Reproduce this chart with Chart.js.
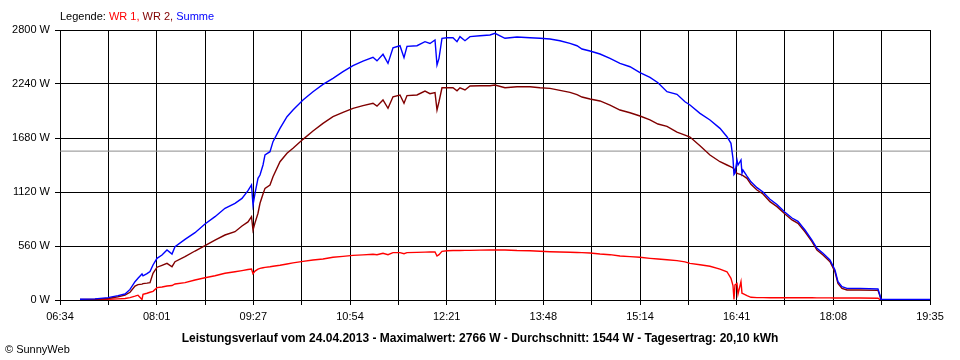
<!DOCTYPE html>
<html lang="de">
<head>
    <meta charset="UTF-8">
    <title>Leistungsverlauf 24.04.2013</title>
    <style>
        body {
            margin: 0;
            background-color: #ffffff;
        }

        .wrap {
            position: relative;
            width: 960px;
            height: 360px;
            font-family: 'Liberation Sans', Arial, sans-serif;
            color: #000000;
        }

        #powerChart {
            position: absolute;
            left: 0;
            top: 0;
        }

        .legend {
            position: absolute;
            left: 60px;
            top: 10px;
            font-size: 11px;
        }

        .footer {
            position: absolute;
            left: 0;
            width: 960px;
            top: 331px;
            text-align: center;
            font-size: 12px;
            font-weight: bold;
        }

        .copy {
            position: absolute;
            left: 5px;
            top: 343px;
            font-size: 11px;
        }
    </style>
</head>
<body>
    <div class="wrap">
        <canvas id="powerChart" width="960" height="360"></canvas>
        <div class="legend">Legende: <span style="color:#ff0000">WR 1,</span> <span style="color:#800000">WR 2,</span> <span style="color:#0000ff">Summe</span></div>
        <div class="footer">Leistungsverlauf vom 24.04.2013 - Maximalwert: 2766 W - Durchschnitt: 1544 W - Tagesertrag: 20,10 kWh</div>
        <div class="copy">&copy; SunnyWeb</div>
    </div>

    <script src="https://cdn.jsdelivr.net/npm/chart.js"></script>
    <script>
        // time labels on the x axis (every second grid line)
        const timeLabels = ['06:34', '08:01', '09:27', '10:54', '12:21', '13:48', '15:14', '16:41', '18:08', '19:35'];
        const yTicks = [0, 560, 1120, 1680, 2240, 2800];
        const avgPower = 1544; // Durchschnitt

        // sample times
        const times = [
            '06:52:13', '07:05:41', '07:17:22', '07:26:20', '07:32:37', '07:37:07', '07:41:36', '07:44:17', '07:47:53', '07:48:47',
            '07:52:22', '07:55:04', '07:57:46', '08:01:21', '08:05:50', '08:10:19', '08:14:49', '08:17:31', '08:26:29', '08:35:28',
            '08:44:26', '08:53:25', '09:02:23', '09:11:22', '09:17:39', '09:23:02', '09:26:11', '09:27:32', '09:29:20', '09:32:01',
            '09:33:49', '09:36:31', '09:38:18', '09:42:47', '09:45:29', '09:51:46', '09:58:03', '10:03:26', '10:12:25', '10:21:23',
            '10:30:22', '10:39:20', '10:48:19', '10:57:18', '11:06:16', '11:15:15', '11:18:50', '11:24:14', '11:28:43', '11:33:13',
            '11:39:29', '11:43:05', '11:45:47', '11:54:45', '12:01:56', '12:06:25', '12:10:55', '12:12:43', '12:14:30', '12:17:11',
            '12:21:41', '12:27:04', '12:30:40', '12:33:21', '12:37:50', '12:42:20', '12:51:18', '13:00:17', '13:04:46', '13:13:45',
            '13:24:31', '13:36:11', '13:45:10', '13:54:08', '14:03:07', '14:12:06', '14:18:23', '14:22:52', '14:30:03', '14:39:02',
            '14:48:01', '14:56:59', '15:05:58', '15:14:56', '15:23:55', '15:31:05', '15:39:10', '15:48:09', '15:55:20', '15:59:49',
            '16:08:48', '16:17:46', '16:26:45', '16:33:02', '16:36:37', '16:38:25', '16:39:19', '16:40:13', '16:42:01', '16:42:55',
            '16:45:36', '16:46:30', '16:47:24', '16:50:59', '16:54:35', '16:59:58', '17:05:21', '17:11:38', '17:17:55', '17:25:06',
            '17:31:23', '17:36:46', '17:43:03', '17:49:20', '17:53:49', '17:59:13', '18:05:29', '18:09:59', '18:12:40', '18:16:16',
            '18:20:45', '18:32:25', '18:48:35', '18:50:22', '18:51:16', '19:08:20', '19:35:16'
        ];

        const wr1 = [
            3, 4, 8, 12, 16, 25, 40, 50, 5, 59,
            70, 80, 90, 128, 135, 145, 150, 166, 180, 207,
            231, 252, 277, 293, 305, 316, 321, 272, 300, 320,
            328, 335, 338, 345, 350, 360, 373, 385, 401, 415,
            425, 443, 452, 463, 468, 474, 470, 485, 470, 491,
            491, 480, 491, 494, 496, 498, 498, 456, 470, 505,
            511, 513, 513, 514, 515, 515, 517, 519, 519, 519,
            513, 511, 505, 501, 498, 495, 492, 491, 488, 477,
            470, 456, 450, 443, 432, 425, 418, 408, 395, 380,
            365, 350, 321, 293, 225, 150, 5, 156, 170, 60,
            190, 70, 65, 45, 28, 25, 25, 24, 24, 24,
            24, 24, 23, 23, 22, 22, 22, 21, 21, 20,
            20, 20, 18, 5, 3, 2, 2
        ];

        const wr2 = [
            5, 8, 15, 34, 50, 80, 145, 160, 165, 170,
            175, 180, 277, 340, 360, 380, 345, 397, 449, 508,
            563, 622, 674, 708, 767, 810, 864, 726, 800, 900,
            1003, 1100, 1158, 1193, 1279, 1434, 1521, 1573, 1666, 1753,
            1832, 1901, 1946, 1988, 2015, 2040, 2010, 2074, 1988, 2108,
            2126, 2040, 2120, 2126, 2167, 2140, 2150, 1970, 2056, 2201,
            2201, 2201, 2170, 2201, 2178, 2219, 2222, 2222, 2230, 2201,
            2212, 2212, 2201, 2195, 2174, 2153, 2130, 2105, 2084, 2064,
            2022, 1970, 1942, 1908, 1867, 1825, 1800, 1740, 1710, 1690,
            1600, 1504, 1434, 1400, 1380, 1370, 1360, 1340, 1314, 1310,
            1300, 1295, 1290, 1262, 1200, 1141, 1099, 1020, 968, 892,
            830, 795, 708, 605, 519, 467, 397, 293, 173, 121,
            104, 104, 100, 40, 3, 3, 3
        ];

        const summe = [
            8, 12, 25, 45, 62, 110, 190, 225, 270, 250,
            273, 295, 363, 432, 467, 519, 477, 553, 629, 698,
            788, 864, 951, 1003, 1054, 1134, 1193, 985, 1106, 1262,
            1296, 1400, 1504, 1538, 1642, 1780, 1901, 1970, 2074, 2160,
            2236, 2299, 2368, 2430, 2478, 2517, 2480, 2548, 2454, 2616,
            2637, 2513, 2630, 2637, 2679, 2660, 2696, 2437, 2506, 2714,
            2720, 2720, 2679, 2731, 2689, 2731, 2741, 2748, 2766, 2714,
            2727, 2720, 2714, 2707, 2689, 2662, 2637, 2603, 2582, 2551,
            2506, 2454, 2419, 2357, 2309, 2253, 2160, 2133, 2056, 2022,
            1936, 1867, 1780, 1693, 1625, 1469, 1300, 1314, 1452, 1400,
            1452, 1314, 1348, 1285, 1225, 1165, 1120, 1045, 990, 910,
            850, 815, 726, 622, 536, 484, 415, 311, 190, 138,
            121, 121, 114, 50, 5, 5, 5
        ];

        // axis range in minutes after midnight
        const xStart = 394.27;
        const xStep = 86.78;
        const xEnd = xStart + xStep * (timeLabels.length - 1);

        function toMinutes(t) {
            let p = t.split(':').map(Number);
            return p[0] * 60 + p[1] + (p[2] || 0) / 60;
        }

        function toPoints(values) {
            return values.map((v, i) => ({ x: toMinutes(times[i]), y: v }));
        }

        const ctx = document.getElementById('powerChart').getContext('2d');
        const powerChart = new Chart(ctx, {
            type: 'line',
            data: {
                datasets: [
                    {
                        label: 'Summe',
                        data: toPoints(summe),
                        borderColor: '#0000ff',
                        borderWidth: 1.4,
                        order: 0
                    },
                    {
                        label: 'WR 2',
                        data: toPoints(wr2),
                        borderColor: '#800000',
                        borderWidth: 1.4,
                        order: 1
                    },
                    {
                        label: 'WR 1',
                        data: toPoints(wr1),
                        borderColor: '#ff0000',
                        borderWidth: 1.4,
                        order: 2
                    },
                    {
                        label: 'Durchschnitt',
                        data: [{ x: xStart, y: avgPower }, { x: xEnd, y: avgPower }],
                        borderColor: '#8c8c8c',
                        borderWidth: 1,
                        order: 3
                    }
                ]
            },
            options: {
                responsive: false,
                animation: false,
                devicePixelRatio: 1,
                elements: {
                    point: { radius: 0 },
                    line: { tension: 0, fill: false }
                },
                layout: {
                    padding: { top: 30, right: 30, left: 0, bottom: 0 }
                },
                plugins: {
                    legend: { display: false },
                    title: { display: false },
                    tooltip: { enabled: false }
                },
                scales: {
                    x: {
                        type: 'linear',
                        min: xStart,
                        max: xEnd,
                        afterBuildTicks: function(scale) {
                            let ticks = [];
                            for (let i = 0; i <= (timeLabels.length - 1) * 2; i++) {
                                ticks.push({ value: xStart + i * xStep / 2 });
                            }
                            scale.ticks = ticks;
                        },
                        afterFit: function(scale) {
                            scale.height = 60;
                        },
                        ticks: {
                            autoSkip: false,
                            maxRotation: 0,
                            padding: 5,
                            color: '#000000',
                            font: { family: "'Liberation Sans', Arial, sans-serif", size: 11 },
                            callback: function(value, index) {
                                return index % 2 === 0 ? timeLabels[index / 2] : '';
                            }
                        },
                        grid: {
                            color: '#000000',
                            lineWidth: 1,
                            tickLength: 5
                        },
                        border: { color: '#000000' }
                    },
                    y: {
                        min: yTicks[0],
                        max: yTicks[yTicks.length - 1],
                        afterBuildTicks: function(scale) {
                            scale.ticks = yTicks.map(v => ({ value: v }));
                        },
                        afterFit: function(scale) {
                            scale.width = 60;
                        },
                        ticks: {
                            padding: 5,
                            color: '#000000',
                            font: { family: "'Liberation Sans', Arial, sans-serif", size: 11 },
                            callback: function(value) {
                                return value + ' W';
                            }
                        },
                        grid: {
                            color: '#000000',
                            lineWidth: 1,
                            tickLength: 5
                        },
                        border: { color: '#000000' }
                    }
                }
            }
        });
    </script>
</body>
</html>
